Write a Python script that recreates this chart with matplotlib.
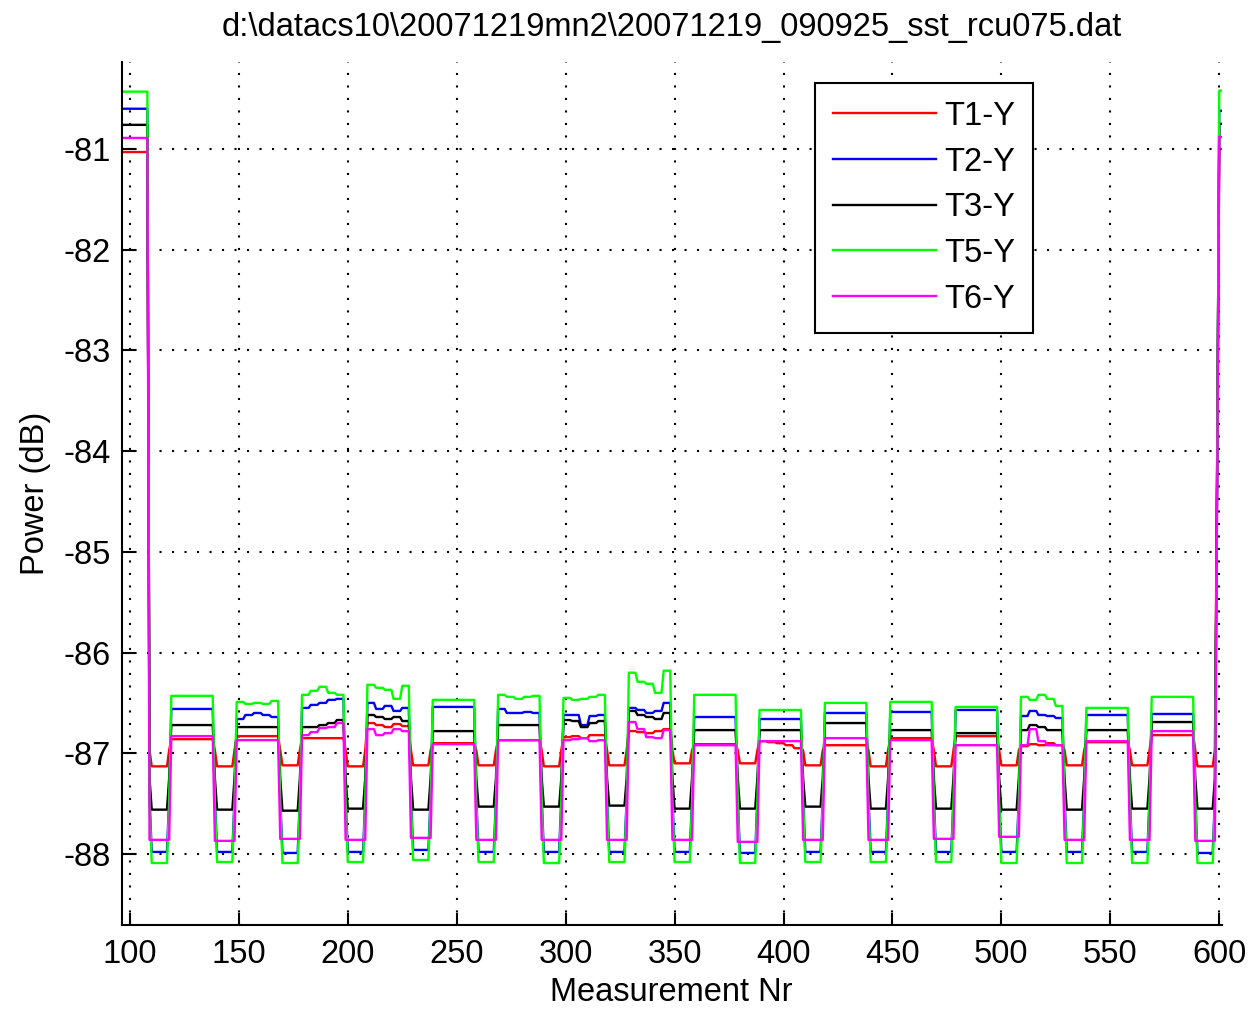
import numpy as np
import matplotlib
matplotlib.use('Agg')
import matplotlib.pyplot as plt

plt.rcParams['font.family'] = ['Liberation Sans', 'DejaVu Sans']
plt.rcParams['axes.unicode_minus'] = False

# measurement numbers
x = np.arange(96, 602)

# block lengths: lead-in, 16 x (off 10, on 20), last off block, jump sample, end
runs = [13, 10, 20, 10, 20, 10, 20, 10, 20, 10, 20, 10, 20, 10, 20, 10, 20,
        10, 20, 10, 20, 10, 20, 10, 20, 10, 20, 10, 20, 10, 20, 10, 20, 10, 1, 2]

labels = ['T1-Y', 'T2-Y', 'T3-Y', 'T5-Y', 'T6-Y']

# on-block levels: a single value, or a few values spread over the 20 samples

# T1-Y
t1_start = -81.03
t1_low = [-87.13, -87.13, -87.12, -87.13, -87.12, -87.12, -87.13, -87.12, -87.10,
          -87.10, -87.12, -87.13, -87.13, -87.12, -87.12, -87.12, -87.13]
t1_high = [-86.86, -86.83, -86.85, [-86.70, -86.72, -86.74, -86.71, -86.73],
           -86.90, -86.87, [-86.84, -86.83, -86.85, -86.82, -86.82],
           [-86.78, -86.79, -86.80, -86.78, -86.76],
           -86.91, [-86.88, -86.89, -86.90, -86.92, -86.95], -86.92, -86.85,
           -86.83, [-86.93, -86.91, -86.92, -86.90, -86.92], -86.89, -86.82]
t1_mid, t1_end, t1_edge = -84.15, -81.00, -86.97

# T2-Y
t2_start = -80.60
t2_low = [-87.98, -87.98, -87.99, -87.98, -87.96, -87.98, -87.98, -87.98, -87.98,
          -87.99, -87.98, -87.98, -87.98, -87.98, -87.98, -87.98, -87.99]
t2_high = [-86.56, [-86.66, -86.62, -86.60, -86.62, -86.64],
           [-86.55, -86.52, -86.50, -86.47, -86.46],
           [-86.50, -86.56, -86.53, -86.58, -86.55],
           -86.54, [-86.56, -86.60, -86.60, -86.59, -86.60],
           [-86.62, -86.62, -86.72, -86.63, -86.62],
           [-86.55, -86.57, -86.60, -86.58, -86.50],
           -86.64, -86.66, -86.60, -86.59, -86.57,
           [-86.63, -86.58, -86.62, -86.63, -86.65], -86.62, -86.61]
t2_mid, t2_end, t2_edge = -84.35, -80.62, -87.45

# T3-Y
t3_start = -80.76
t3_low = [-87.56, -87.56, -87.57, -87.55, -87.56, -87.53, -87.53, -87.52, -87.55,
          -87.55, -87.53, -87.55, -87.55, -87.56, -87.56, -87.55, -87.55]
t3_high = [-86.72, -86.74, [-86.74, -86.74, -86.72, -86.70, -86.67],
           [-86.62, -86.64, -86.66, -86.64, -86.68],
           -86.78, -86.72, [-86.67, -86.68, -86.74, -86.70, -86.68],
           [-86.58, -86.62, -86.64, -86.66, -86.60],
           -86.77, -86.77, -86.70, -86.77, -86.80,
           [-86.77, -86.72, -86.74, -86.77, -86.77], -86.77, -86.69]
t3_mid, t3_end, t3_edge = -84.28, -80.75, -87.25

# T5-Y
t5_start = -80.43
t5_low = [-88.09, -88.08, -88.09, -88.08, -88.06, -88.08, -88.09, -88.08, -88.08,
          -88.09, -88.08, -88.08, -88.08, -88.09, -88.09, -88.09, -88.09]
t5_high = [-86.43, [-86.49, -86.51, -86.50, -86.51, -86.48],
           [-86.42, -86.38, -86.34, -86.40, -86.42],
           [-86.32, -86.35, -86.37, -86.46, -86.33],
           -86.47, [-86.42, -86.44, -86.46, -86.44, -86.43],
           [-86.45, -86.47, -86.46, -86.44, -86.42],
           [-86.20, -86.29, -86.31, -86.40, -86.18],
           -86.42, -86.57, -86.50, -86.49, -86.54,
           [-86.44, -86.47, -86.42, -86.46, -86.53], -86.55, -86.44]
t5_mid, t5_end, t5_edge = -84.42, -80.42, -87.48

# T6-Y
t6_start = -80.89
t6_low = [-87.86, -87.87, -87.85, -87.86, -87.84, -87.86, -87.86, -87.86, -87.86,
          -87.88, -87.86, -87.86, -87.85, -87.83, -87.86, -87.86, -87.87]
t6_high = [-86.83, -86.87, [-86.82, -86.79, -86.75, -86.74, -86.70],
           [-86.76, -86.82, -86.80, -86.76, -86.78],
           -86.91, -86.87, [-86.87, -86.86, -86.85, -86.88, -86.87],
           [-86.69, -86.76, -86.84, -86.85, -86.77],
           -86.92, -86.88, -86.85, -86.87, -86.92,
           [-86.92, -86.76, -86.88, -86.92, -86.92], -86.88, -86.78]
t6_mid, t6_end, t6_edge = -84.50, -80.88, None


def build(start, low, high, mid, end, edge):
    pieces = [np.full(runs[0], start)]
    for i in range(len(high)):
        pieces.append(np.full(runs[2 * i + 1], low[i]))
        h = np.atleast_1d(high[i])
        pieces.append(np.repeat(h, runs[2 * i + 2] // len(h)))
    pieces += [np.full(runs[33], low[16]), np.full(runs[34], mid),
               np.full(runs[35], end)]
    y = np.concatenate(pieces)
    if edge is not None:
        # first and last sample of each off block sit part way
        pos = np.cumsum([0] + runs)
        for k in range(1, 34, 2):
            y[pos[k]] = edge
            y[pos[k + 1] - 1] = edge
    return y


series = [
    build(t1_start, t1_low, t1_high, t1_mid, t1_end, t1_edge),
    build(t2_start, t2_low, t2_high, t2_mid, t2_end, t2_edge),
    build(t3_start, t3_low, t3_high, t3_mid, t3_end, t3_edge),
    build(t5_start, t5_low, t5_high, t5_mid, t5_end, t5_edge),
    build(t6_start, t6_low, t6_high, t6_mid, t6_end, t6_edge),
]
colors = ['#ff0000', '#0000ff', '#000000', '#00ff00', '#ff00ff']

fig = plt.figure(figsize=(12.49, 10.10), dpi=100)
ax = fig.add_axes([0.0974, 0.0842, 0.8807, 0.8545])

for y, c, lab in zip(series, colors, labels):
    ax.plot(x, y, color=c, lw=1.7, label=lab)

ax.set_xlim(96.2, 601.1)
ax.set_ylim(-88.705, -80.135)
ax.set_xticks(np.arange(100, 601, 50))
ax.set_yticks(np.arange(-88, -80.5, 1))

ax.spines['top'].set_visible(False)
ax.spines['right'].set_visible(False)
for s in ('left', 'bottom'):
    ax.spines[s].set_linewidth(1.5)
ax.tick_params(direction='in', length=9, width=1.5, labelsize=23.5)
ax.tick_params(axis='x', pad=10)
ax.tick_params(axis='y', pad=8)

ax.set_axisbelow(True)
ax.grid(True, color='k', lw=1.5, linestyle=(0, (1, 5)))

ax.set_title(r'd:\datacs10\20071219mn2\20071219_090925_sst_rcu075.dat',
             fontsize=23.5, pad=19)
ax.set_xlabel('Measurement Nr', fontsize=23.5, labelpad=5)
ax.set_ylabel('Power (dB)', fontsize=23.5, labelpad=9)

leg = ax.legend(loc='upper left', bbox_to_anchor=(0.630, 0.9757), fontsize=23.5,
                handlelength=3.16, handletextpad=0.25, labelspacing=0.45,
                borderpad=0.55, borderaxespad=0, fancybox=False, framealpha=1)
leg.get_frame().set_edgecolor('k')
leg.get_frame().set_linewidth(1.5)

fig.savefig('out.png', dpi=100)
